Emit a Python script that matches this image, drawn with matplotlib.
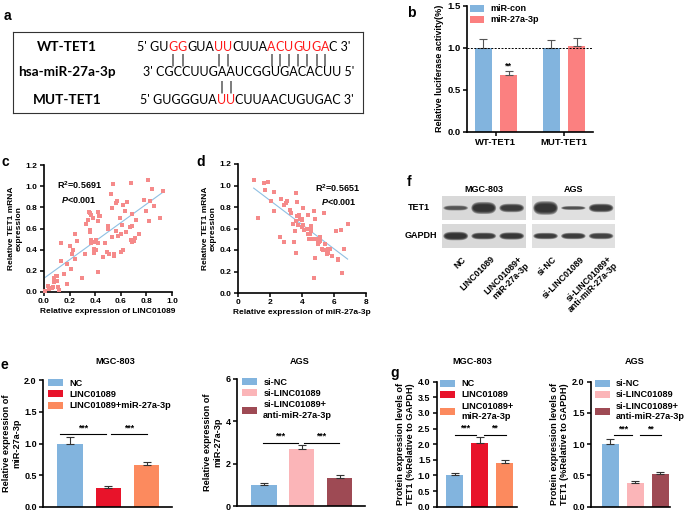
import matplotlib.pyplot as plt
import numpy as np
from matplotlib.patches import Rectangle, Polygon
from matplotlib.ticker import FormatStrFormatter

plt.rcParams['font.family'] = ['Liberation Sans', 'DejaVu Sans']
plt.rcParams['font.weight'] = 'bold'
plt.rcParams['axes.labelweight'] = 'bold'
plt.rcParams['axes.titleweight'] = 'bold'
plt.rcParams['mathtext.fontset'] = 'custom'
plt.rcParams['mathtext.rm'] = 'Liberation Sans:bold'
plt.rcParams['mathtext.it'] = 'Liberation Sans:bold:italic'
plt.rcParams['mathtext.bf'] = 'Liberation Sans:bold'

W, H = 685, 512

# ---------------- data ----------------
# a: sequences
seq_names = ['WT-TET1', 'hsa-miR-27a-3p', 'MUT-TET1']
wt_seq = 'GUGGGUAUUCUUAACUGUGAC'
wt_red = [2, 3, 7, 8, 13, 14, 15, 16, 17, 18, 19]
mir_seq = 'CGCCUUGAAUCGGUGACACUU'
mut_seq = 'GUGGGUAUUCUUAACUGUGAC'
mut_red = [7, 8]

# b: luciferase
b_groups = ['WT-TET1', 'MUT-TET1']
b_series = ['miR-con', 'miR-27a-3p']
b_con = [1.0, 1.0]
b_con_err = [0.10, 0.09]
b_mir = [0.67, 1.02]
b_mir_err = [0.05, 0.10]

# c: LINC01089 vs TET1
c_x = [0.01, 0.03, 0.04, 0.06, 0.07, 0.08, 0.09, 0.08, 0.10, 0.11, 0.12, 0.10, 0.13, 0.13,
       0.16, 0.18, 0.18, 0.20, 0.21, 0.22, 0.23, 0.24, 0.24, 0.26, 0.30, 0.32, 0.33, 0.34,
       0.35, 0.36, 0.37, 0.36, 0.37, 0.36, 0.37, 0.38, 0.39, 0.39, 0.40, 0.41, 0.41, 0.42,
       0.42, 0.42, 0.42, 0.43, 0.44, 0.46, 0.48, 0.49, 0.50, 0.50, 0.51, 0.52, 0.53, 0.53,
       0.54, 0.55, 0.55, 0.56, 0.56, 0.57, 0.58, 0.59, 0.60, 0.60, 0.61, 0.62, 0.62, 0.63,
       0.64, 0.65, 0.67, 0.68, 0.68, 0.69, 0.69, 0.69, 0.70, 0.71, 0.72, 0.74, 0.78, 0.80,
       0.81, 0.82, 0.83, 0.84, 0.86, 0.91, 0.93]
c_y = [0.01, 0.06, 0.03, 0.04, 0.05, 0.13, 0.15, 0.09, 0.10, 0.05, 0.02, 0.15, 0.29, 0.46,
       0.17, 0.08, 0.26, 0.43, 0.22, 0.36, 0.40, 0.31, 0.55, 0.48, 0.13, 0.36, 0.64, 0.68,
       0.76, 0.75, 0.73, 0.57, 0.49, 0.59, 0.46, 0.70, 0.41, 0.37, 0.47, 0.49, 0.40, 0.46,
       0.19, 0.76, 0.67, 0.72, 0.72, 0.33, 0.46, 0.38, 0.60, 0.62, 0.36, 0.93, 0.79, 0.52,
       1.02, 0.36, 0.34, 0.84, 0.58, 0.86, 0.53, 0.70, 0.55, 0.38, 0.63, 0.40, 0.82, 0.77,
       0.57, 0.85, 0.61, 0.49, 1.03, 0.47, 0.62, 0.74, 0.48, 0.51, 0.68, 0.55, 0.87, 0.77,
       1.06, 0.67, 0.86, 0.97, 0.81, 0.70, 0.95]
c_fit = (0.13, 0.875)  # intercept, slope

# d: miR-27a-3p vs TET1
d_x = [0.98, 1.26, 1.61, 1.68, 1.88, 2.05, 2.26, 2.26, 2.68, 2.62, 2.89, 2.89, 2.97, 3.08,
       3.25, 3.31, 3.46, 3.52, 3.56, 3.60, 3.62, 3.62, 3.66, 3.69, 3.77, 3.83, 3.87, 3.98,
       3.98, 4.02, 4.04, 4.08, 4.15, 4.33, 4.36, 4.40, 4.44, 4.50, 4.54, 4.57, 4.57, 4.61,
       4.75, 4.78, 4.82, 4.82, 4.88, 4.98, 5.03, 5.07, 5.13, 5.13, 5.24, 5.34, 5.38, 5.45,
       5.49, 5.55, 5.65, 5.65, 5.76, 5.86, 6.14, 6.22, 6.26, 6.45, 6.51, 6.64, 6.85]
d_y = [1.05, 0.70, 1.02, 0.96, 1.03, 0.86, 0.94, 0.76, 0.87, 0.52, 0.47, 0.82, 0.84, 0.86,
       0.77, 0.74, 0.64, 0.47, 0.58, 0.67, 0.37, 0.93, 0.85, 0.72, 0.63, 0.73, 0.69, 0.68,
       0.61, 0.69, 0.79, 0.63, 0.59, 0.60, 0.73, 0.55, 0.50, 0.55, 0.62, 0.61, 0.58, 0.50,
       0.76, 0.14, 0.69, 0.33, 0.50, 0.46, 0.49, 0.47, 0.52, 0.48, 0.41, 0.40, 0.74, 0.46,
       0.40, 0.36, 0.37, 0.41, 0.41, 0.34, 0.58, 0.32, 0.31, 0.59, 0.19, 0.41, 0.64]
d_fit = (1.086, -0.1125)

# f: western blot (band strength, band thickness)
mgc_lanes = ['NC', 'LINC01089', 'LINC01089+\nmiR-27a-3p']
ags_lanes = ['si-NC', 'si-LINC01089', 'si-LINC01089+\nanti-miR-27a-3p']
mgc_tet1 = [(0.65, 0.12), (1.0, 0.28), (0.9, 0.2)]
ags_tet1 = [(1.0, 0.32), (0.7, 0.09), (0.95, 0.2)]
mgc_gapdh = [(1.0, 0.2), (0.9, 0.16), (0.95, 0.17)]
ags_gapdh = [(0.9, 0.15), (0.9, 0.15), (0.85, 0.15)]

# e: miR-27a-3p expression
e_mgc_labels = ['NC', 'LINC01089', 'LINC01089+miR-27a-3p']
e_mgc_vals = [1.0, 0.30, 0.66]
e_mgc_err = [0.10, 0.03, 0.05]
e_ags_labels = ['si-NC', 'si-LINC01089', 'si-LINC01089+\nanti-miR-27a-3p']
e_ags_vals = [1.0, 2.68, 1.33]
e_ags_err = [0.08, 0.22, 0.12]

# g: TET1 protein
g_mgc_labels = ['NC', 'LINC01089', 'LINC01089+\nmiR-27a-3p']
g_mgc_vals = [1.0, 2.05, 1.41]
g_mgc_err = [0.09, 0.18, 0.10]
g_ags_labels = ['si-NC', 'si-LINC01089', 'si-LINC01089+\nanti-miR-27a-3p']
g_ags_vals = [1.0, 0.38, 0.52]
g_ags_err = [0.09, 0.03, 0.04]

blue = '#82b4de'
salmon = '#fb8080'
red = '#e8132a'
orange = '#fc8a5e'
pink = '#fbb5b8'
maroon = '#9e4a54'
dot = '#f58a8a'
fitblue = '#8fc0e3'

fig = plt.figure(figsize=(6.85, 5.12), dpi=100)


def rect(x0, y0, x1, y1):
    return [x0 / W, 1 - y1 / H, (x1 - x0) / W, (y1 - y0) / H]


def fp(x, y):
    return x / W, 1 - y / H


def style(ax, ts=6):
    for s in ['top', 'right']:
        ax.spines[s].set_visible(False)
    for s in ['left', 'bottom']:
        ax.spines[s].set_linewidth(1.2)
    ax.tick_params(direction='out', length=3, width=1.1, labelsize=ts, pad=1.5)


for letter, (x, y) in zip('abcdefg', [(7, 16), (411, 13), (5, 162), (201, 162), (4, 365), (409, 182), (395, 373)]):
    fig.text(*fp(x, y), letter, fontsize=10, ha='center', va='center')

# ---------------- a ----------------
ax_a = fig.add_axes(rect(13, 32, 363, 113))
ax_a.set_xlim(0, 350)
ax_a.set_ylim(81, 0)
ax_a.set_xticks([])
ax_a.set_yticks([])
for s in ax_a.spines.values():
    s.set_linewidth(0.8)
    s.set_color('#333333')
seq_font = dict(family=['Lato', 'DejaVu Sans'], fontsize=9, weight='normal')
for name, y in zip(seq_names, [15, 40, 68]):
    ax_a.text(54, y, name, ha='center', va='center', family=['Lato', 'DejaVu Sans'],
              fontsize=9.8, weight='bold')


def seq_row(x, y, seq, reds, p5, p3):
    runs = []
    for i, ch in enumerate(seq):
        r = i in reds
        if r:
            runs.append([ch, True])
        elif runs and not runs[-1][1]:
            runs[-1][0] += ch
        else:
            runs.append([ch, False])
    runs[0][0] = p5 + ' ' + runs[0][0]
    runs[-1][0] = runs[-1][0] + ' ' + p3
    prev = None
    red_texts = []
    for s, r in runs:
        col = '#ff1a1a' if r else 'black'
        if prev is None:
            t = ax_a.text(x, y, s, ha='left', va='center', color=col, **seq_font)
        else:
            t = ax_a.annotate(s, xy=(1, 0.5), xycoords=prev, ha='left', va='center',
                              color=col, **seq_font)
        if r:
            red_texts.append(t)
        prev = t
    return red_texts


wt_t = seq_row(124, 15, wt_seq, wt_red, "5'", "3'")
seq_row(130, 40, mir_seq, [], "3'", "5'")
mut_t = seq_row(127, 68, mut_seq, mut_red, "5'", "3'")
for t in wt_t:
    ax_a.annotate('|', xy=(0.5, 28), xycoords=(t, 'data'), ha='center', va='center',
                  family=['DejaVu Sans'], fontsize=8.5, weight='normal')
for t in mut_t:
    ax_a.annotate('|', xy=(0.5, 55), xycoords=(t, 'data'), ha='center', va='center',
                  family=['DejaVu Sans'], fontsize=8.5, weight='normal')

# ---------------- b ----------------
ax_b = fig.add_axes(rect(466.7, 5.7, 593, 131.7))
style(ax_b, 6.8)
gx = np.arange(len(b_groups))
ek = dict(elinewidth=0.8, capthick=0.8, ecolor='#555555')
h1 = ax_b.bar(gx - 0.1875, b_con, 0.25, color=blue, yerr=[np.zeros(2), b_con_err],
              capsize=3, error_kw=ek)
h2 = ax_b.bar(gx + 0.1875, b_mir, 0.25, color=salmon, yerr=[np.zeros(2), b_mir_err],
              capsize=3, error_kw=ek)
ax_b.axhline(1.0, ls=(0, (2, 1.5)), lw=0.7, color='black')
ax_b.text(gx[0] + 0.1875, b_mir[0] + b_mir_err[0] + 0.01, '**', ha='center', va='bottom',
          fontsize=6.5)
ax_b.set_xlim(-0.43, 1.43)
ax_b.set_ylim(0, 1.5)
ax_b.set_yticks([0, 0.5, 1.0, 1.5])
ax_b.yaxis.set_major_formatter(FormatStrFormatter('%.1f'))
ax_b.set_xticks(gx)
ax_b.set_xticklabels(b_groups)
ax_b.set_ylabel('Relative luciferase activity(%)', fontsize=6.5, labelpad=2)
ax_b.legend([h1, h2], b_series, loc='upper left', bbox_to_anchor=(0.026, 1.01),
            frameon=False, fontsize=6.5, borderpad=0, borderaxespad=0, handlelength=1.6,
            handleheight=0.8, handletextpad=0.7, labelspacing=0.2)

# ---------------- c ----------------
ax_c = fig.add_axes(rect(44, 165, 172, 292))
style(ax_c)
ax_c.scatter(c_x, c_y, s=5, marker='s', color=dot, lw=0, clip_on=False, zorder=3)
xs = np.array([min(c_x), max(c_x)])
ax_c.plot(xs, c_fit[0] + c_fit[1] * xs, color=fitblue, lw=0.8)
ax_c.set_xlim(0, 1.0)
ax_c.set_ylim(0, 1.2)
ax_c.set_xticks(np.arange(0, 1.01, 0.2))
ax_c.set_yticks(np.arange(0, 1.21, 0.2))
ax_c.xaxis.set_major_formatter(FormatStrFormatter('%.1f'))
ax_c.yaxis.set_major_formatter(FormatStrFormatter('%.1f'))
ax_c.set_xlabel('Relative expression of LINC01089', fontsize=6, labelpad=2)
ax_c.set_ylabel('Relative TET1 mRNA\nexpression', fontsize=6, labelpad=2)
ax_c.text(0.1, 1.01, 'R$^2$=0.5691', fontsize=6.5, va='center')
ax_c.text(0.13, 0.87, '$\\it{P}$<0.001', fontsize=6.5, va='center')

# ---------------- d ----------------
ax_d = fig.add_axes(rect(238, 164, 366, 293))
style(ax_d)
ax_d.scatter(d_x, d_y, s=5, marker='s', color=dot, lw=0, zorder=3)
xs = np.array([min(d_x), max(d_x)])
ax_d.plot(xs, d_fit[0] + d_fit[1] * xs, color=fitblue, lw=0.8)
ax_d.set_xlim(0, 8)
ax_d.set_ylim(0, 1.2)
ax_d.set_xticks([0, 2, 4, 6, 8])
ax_d.set_yticks(np.arange(0, 1.21, 0.2))
ax_d.yaxis.set_major_formatter(FormatStrFormatter('%.1f'))
ax_d.set_xlabel('Relative expression of miR-27a-3p', fontsize=6, labelpad=2)
ax_d.set_ylabel('Relative TET1 mRNA\nexpression', fontsize=6, labelpad=2)
ax_d.text(4.81, 0.977, 'R$^2$=0.5651', fontsize=6.5, va='center')
ax_d.text(5.19, 0.846, '$\\it{P}$<0.001', fontsize=6.5, va='center')

# ---------------- f ----------------
tt = np.linspace(0, 2 * np.pi, 120)
ux = np.sign(np.cos(tt)) * np.abs(np.cos(tt)) ** (2 / 3.5)
uy = np.sin(tt)


def blot(box, title, lanes, tet1, gapdh, bg):
    ax = fig.add_axes(rect(*box))
    ax.set_xlim(0, 3)
    ax.set_ylim(0, 2.17)
    ax.axis('off')
    ax.add_patch(Rectangle((0, 1.17), 3, 1, color=bg, lw=0))
    ax.add_patch(Rectangle((0, 0), 3, 1, color=bg, lw=0))
    for yc, bands in [(1.67, tet1), (0.5, gapdh)]:
        for i, (st, th) in enumerate(bands):
            for k in range(5):
                a = 0.37 * (1 + 0.05 * k)
                b = th / 2 * (1 + 0.2 * k)
                ax.add_patch(Polygon(np.column_stack([i + 0.5 + a * ux, yc + b * uy]),
                                     closed=True, color='#141414', alpha=st * 0.3, lw=0))
    for i, lab in enumerate(lanes):
        ax.text(i + 0.72, -0.28, lab, rotation=45, ha='right', va='top',
                rotation_mode='anchor', fontsize=6.3, linespacing=1.0)
    ax.set_title(title, fontsize=6.5, pad=3)
    return ax


blot((441.7, 196, 525.7, 248), 'MGC-803', mgc_lanes, mgc_tet1, mgc_gapdh, '#d9d9d9')
blot((531.7, 196, 615, 248), 'AGS', ags_lanes, ags_tet1, ags_gapdh, '#e0e0e0')
fig.text(*fp(418.5, 208), 'TET1', fontsize=6.5, ha='center', va='center')
fig.text(*fp(420.5, 236), 'GAPDH', fontsize=6.5, ha='center', va='center')

# ---------------- e / g ----------------


def bar_panel(box, vals, errs, colors, labels, xlim, ymax, yticks, fmt, sig, sig_y, title,
              title_xy, ylabel, leg_anchor):
    ax = fig.add_axes(rect(*box))
    style(ax, 6.5)
    x = np.arange(len(vals))
    bars = ax.bar(x, vals, 0.68, color=colors, yerr=[np.zeros(len(vals)), errs], capsize=3,
                  error_kw=dict(elinewidth=0.8, capthick=0.8, ecolor='#333333'))
    for x0, x1, mark in sig:
        ax.plot([x0, x1], [sig_y, sig_y], color='black', lw=0.8)
        ax.text((x0 + x1) / 2, sig_y + ymax * 0.012, mark, ha='center', va='bottom', fontsize=6.3)
    ax.set_xlim(*xlim)
    ax.set_ylim(0, ymax)
    ax.set_xticks([])
    ax.set_yticks(yticks)
    ax.yaxis.set_major_formatter(FormatStrFormatter(fmt))
    ax.set_ylabel(ylabel, fontsize=6.6, labelpad=2)
    ax.legend(list(bars), labels, loc='upper left', bbox_to_anchor=leg_anchor, frameon=False,
              fontsize=6.6, borderpad=0, borderaxespad=0, handlelength=1.6, handleheight=0.8,
              handletextpad=0.7, labelspacing=0.25)
    fig.text(*fp(*title_xy), title, fontsize=6.6, ha='center', va='center')
    return ax


bar_panel((43, 380, 172, 507), e_mgc_vals, e_mgc_err, [blue, red, orange], e_mgc_labels,
          (-0.72, 2.67), 2.0, [0, 0.5, 1.0, 1.5, 2.0], '%.1f',
          [(-0.28, 0.93, '***'), (1.06, 2.0, '***')], 1.15, 'MGC-803', (115, 361),
          'Relative expression of\nmiR-27a-3p', (0.04, 1.01))
bar_panel((237, 379, 365, 506), e_ags_vals, e_ags_err, [blue, pink, maroon], e_ags_labels,
          (-0.70, 2.67), 6, [0, 2, 4, 6], '%d',
          [(-0.02, 0.9, '***'), (1.06, 1.98, '***')], 3.0, 'AGS', (300, 361),
          'Relative expression of\nmiR-27a-3p', (0.04, 1.01))
bar_panel((436.7, 381.7, 516.7, 506.7), g_mgc_vals, g_mgc_err, [blue, red, orange],
          g_mgc_labels, (-0.71, 2.48), 4.0, np.arange(0, 4.01, 0.5), '%.1f',
          [(0.01, 0.85, '***'), (1.17, 2.04, '**')], 2.31, 'MGC-803', (472, 361),
          'Protein expression levels of\nTET1 (%Relative to GAPDH)', (0.04, 1.02))
bar_panel((591, 381.7, 670, 506.7), g_ags_vals, g_ags_err, [blue, pink, maroon],
          g_ags_labels, (-0.76, 2.4), 2.0, [0, 0.5, 1.0, 1.5, 2.0], '%.1f',
          [(0.16, 0.88, '***'), (1.2, 2.04, '**')], 1.15, 'AGS', (635, 361),
          'Protein expression levels of\nTET1 (%Relative to GAPDH)', (0.05, 1.02))

fig.savefig('out.png', dpi=100)
